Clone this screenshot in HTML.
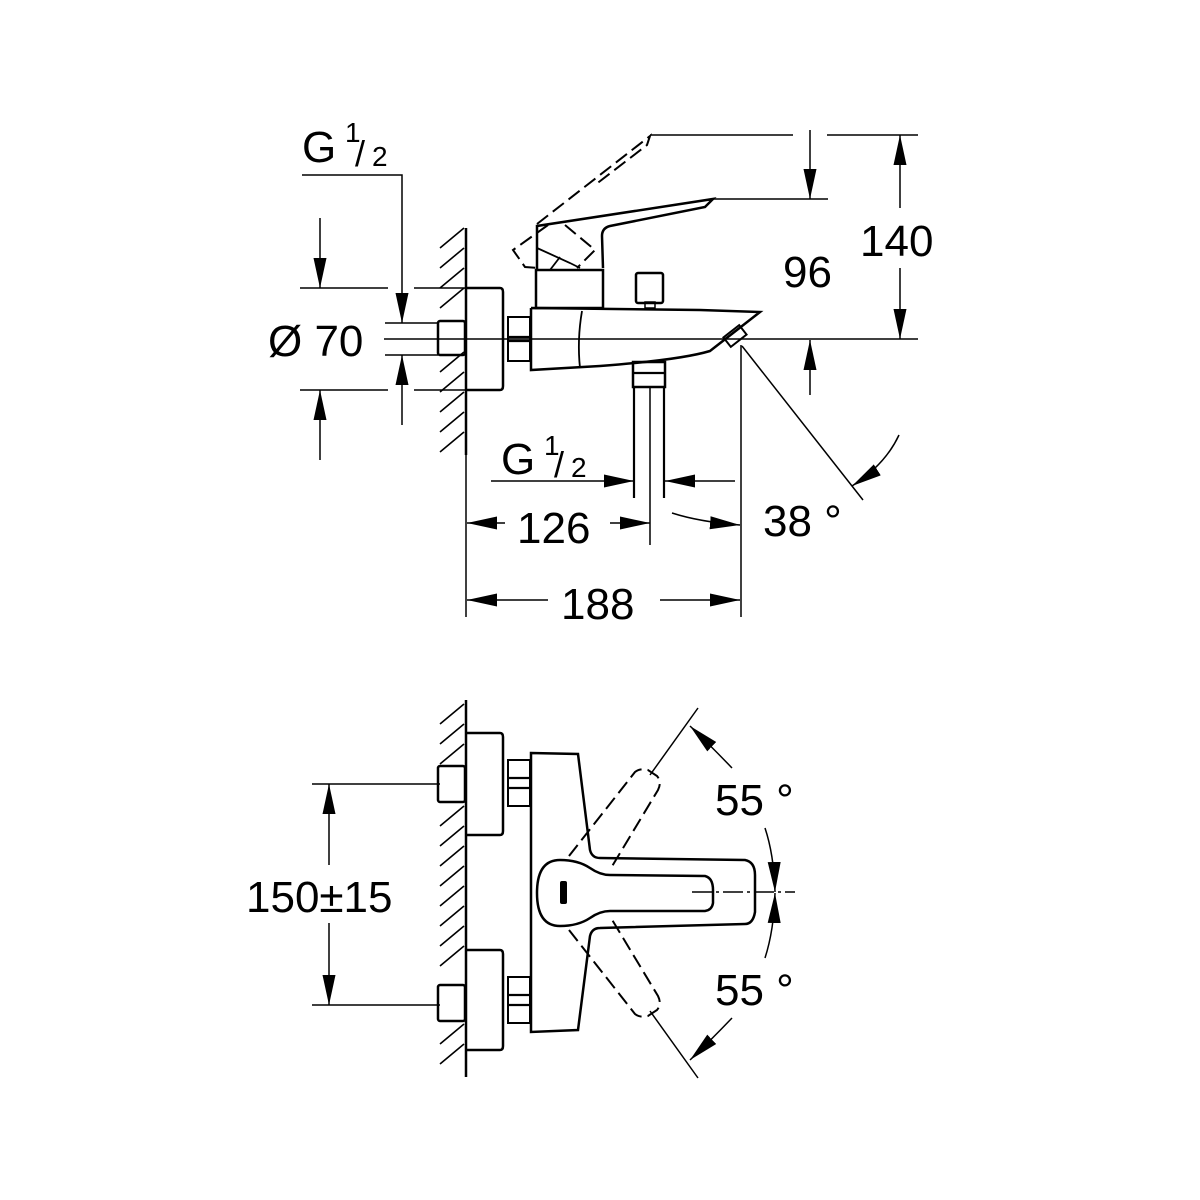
<!DOCTYPE html>
<html><head><meta charset="utf-8"><style>
html,body{margin:0;padding:0;background:#fff;}
svg{display:block}
text{font-family:"Liberation Sans",sans-serif;fill:#000}
</style></head><body>
<svg width="1200" height="1200" viewBox="0 0 1200 1200" xmlns="http://www.w3.org/2000/svg">
<defs>
<marker id="a" markerUnits="userSpaceOnUse" markerWidth="32" markerHeight="16" refX="30" refY="8" orient="auto">
<path d="M0,1.5 L30,8 L0,14.5 Z" fill="#000"/>
</marker>
</defs>
<g stroke="#000" fill="none" stroke-width="2.2">
<!-- ===== TOP VIEW ===== -->
<line x1="466" y1="228" x2="466" y2="455" stroke-width="2.5"/>
<g stroke-width="1.6">
<line x1="440" y1="248" x2="464" y2="228"/><line x1="440" y1="268" x2="464" y2="248"/>
<line x1="440" y1="288" x2="464" y2="268"/><line x1="440" y1="308" x2="464" y2="288"/>
<line x1="440" y1="372" x2="464" y2="352"/><line x1="440" y1="392" x2="464" y2="372"/>
<line x1="440" y1="412" x2="464" y2="392"/><line x1="440" y1="432" x2="464" y2="412"/>
<line x1="440" y1="452" x2="464" y2="432"/>
</g>
<path d="M467,288 L500,288 Q503,288 503,292 L503,386 Q503,390 500,390 L467,390" stroke-width="2.5"/>
<rect x="438" y="321" width="27" height="34" rx="2" stroke-width="2.5"/>
<rect x="508" y="317" width="22" height="44" stroke-width="2"/>
<line x1="508" y1="337" x2="530" y2="337"/><line x1="508" y1="341" x2="530" y2="341"/>
<path d="M531,308 L531,370 L600,366 Q680,360 710,351 L760,312 L700,310 L531,308" stroke-width="2.5"/>
<path d="M582,311 Q577,340 580,368" stroke-width="1.8"/>
<rect x="725" y="330" width="20" height="12" transform="rotate(-38 735 336)" stroke-width="2"/>
<rect x="536" y="270" width="67" height="38" stroke-width="2.5"/>
<path d="M537,270 L537,248 L537,226 L713,199 L705,207 L610,226 Q602,228 602,236 L603,268" stroke-width="2.5"/>
<path d="M537,248 L570,263 L580,268" stroke-width="1.8"/>
<path d="M550,270 L560,257" stroke-width="1.8"/>
<g stroke-dasharray="14,6" stroke-width="2">
<path d="M537,224 L650,136 L647,145 L595,185"/>
<path d="M548,225 L513,250 L525,267 L538,268"/>
<path d="M565,225 L595,250 L577,268"/>
</g>
<rect x="636" y="273" width="27" height="30" rx="2" stroke-width="2.5"/>
<rect x="645" y="302" width="10" height="6" stroke-width="1.5"/>
<rect x="633" y="362" width="32" height="25" stroke-width="2.5"/>
<line x1="633" y1="373" x2="665" y2="373"/>
<line x1="634" y1="387" x2="634" y2="498"/><line x1="664" y1="387" x2="664" y2="498"/>
<line x1="650" y1="387" x2="650" y2="545" stroke-width="1.5"/>
<line x1="384" y1="339" x2="918" y2="339" stroke-width="1.5"/>
<line x1="650" y1="135" x2="793" y2="135" stroke-width="1.5"/>
<line x1="827" y1="135" x2="918" y2="135" stroke-width="1.5"/>
<line x1="713" y1="199" x2="828" y2="199" stroke-width="1.5"/>
<line x1="810" y1="130" x2="810" y2="199" stroke-width="1.5" marker-end="url(#a)"/>
<line x1="810" y1="395" x2="810" y2="340" stroke-width="1.5" marker-end="url(#a)"/>
<line x1="900" y1="208" x2="900" y2="135" stroke-width="1.5" marker-end="url(#a)"/>
<line x1="900" y1="268" x2="900" y2="339" stroke-width="1.5" marker-end="url(#a)"/>
<line x1="300" y1="288" x2="388" y2="288" stroke-width="1.5"/>
<line x1="414" y1="288" x2="466" y2="288" stroke-width="1.5"/>
<line x1="300" y1="390" x2="388" y2="390" stroke-width="1.5"/>
<line x1="414" y1="390" x2="466" y2="390" stroke-width="1.5"/>
<line x1="385" y1="323" x2="438" y2="323" stroke-width="1.5"/>
<line x1="385" y1="355" x2="438" y2="355" stroke-width="1.5"/>
<line x1="320" y1="218" x2="320" y2="288" stroke-width="1.5" marker-end="url(#a)"/>
<line x1="320" y1="460" x2="320" y2="390" stroke-width="1.5" marker-end="url(#a)"/>
<polyline points="302,175 402,175 402,323" stroke-width="1.5" marker-end="url(#a)"/>
<line x1="402" y1="425" x2="402" y2="355" stroke-width="1.5" marker-end="url(#a)"/>
<line x1="466" y1="455" x2="466" y2="617" stroke-width="1.5"/>
<line x1="741" y1="345" x2="741" y2="617" stroke-width="1.5"/>
<line x1="491" y1="481" x2="634" y2="481" stroke-width="1.5" marker-end="url(#a)"/>
<line x1="735" y1="481" x2="665" y2="481" stroke-width="1.5" marker-end="url(#a)"/>
<line x1="505" y1="523" x2="467" y2="523" stroke-width="1.5" marker-end="url(#a)"/>
<line x1="610" y1="523" x2="650" y2="523" stroke-width="1.5" marker-end="url(#a)"/>
<line x1="548" y1="600" x2="467" y2="600" stroke-width="1.5" marker-end="url(#a)"/>
<line x1="660" y1="600" x2="740" y2="600" stroke-width="1.5" marker-end="url(#a)"/>
<line x1="742" y1="346" x2="863" y2="500" stroke-width="1.5"/>
<path d="M899,435 Q885,465 852,486" stroke-width="1.5" marker-end="url(#a)"/>
<path d="M672,513 Q700,522 740,525" stroke-width="1.5" marker-end="url(#a)"/>

<!-- ===== BOTTOM VIEW ===== -->
<line x1="466" y1="700" x2="466" y2="1077" stroke-width="2.5"/>
<g stroke-width="1.6">
<line x1="440" y1="724" x2="464" y2="704"/><line x1="440" y1="744" x2="464" y2="724"/>
<line x1="440" y1="764" x2="464" y2="744"/>
<line x1="440" y1="826" x2="464" y2="806"/><line x1="440" y1="846" x2="464" y2="826"/>
<line x1="440" y1="866" x2="464" y2="846"/><line x1="440" y1="886" x2="464" y2="866"/>
<line x1="440" y1="906" x2="464" y2="886"/><line x1="440" y1="926" x2="464" y2="906"/>
<line x1="440" y1="946" x2="464" y2="926"/><line x1="440" y1="966" x2="464" y2="946"/>
<line x1="440" y1="1044" x2="464" y2="1024"/><line x1="440" y1="1064" x2="464" y2="1044"/>
</g>
<path d="M467,733 L500,733 Q503,733 503,737 L503,831 Q503,835 500,835 L467,835" stroke-width="2.5"/>
<path d="M467,950 L500,950 Q503,950 503,954 L503,1046 Q503,1050 500,1050 L467,1050" stroke-width="2.5"/>
<rect x="438" y="766" width="27" height="36" rx="2" stroke-width="2.5"/>
<rect x="438" y="985" width="27" height="36" rx="2" stroke-width="2.5"/>
<rect x="508" y="760" width="22" height="46" stroke-width="2"/>
<line x1="508" y1="778" x2="530" y2="778"/><line x1="508" y1="788" x2="530" y2="788"/>
<rect x="508" y="977" width="22" height="46" stroke-width="2"/>
<line x1="508" y1="995" x2="530" y2="995"/><line x1="508" y1="1005" x2="530" y2="1005"/>
<path d="M531,753 L578,754 L590,850 Q592,858 600,858 L745,860 Q755,862 755,875 L755,912 Q753,924 745,924 L600,928 Q592,928 590,936 L578,1030 L531,1032 Z" stroke-width="2.5"/>
<path d="M560,860 Q578,860 590,868 Q600,875 610,875 L705,876 Q713,878 713,890 L713,903 Q712,910 705,911 L610,911 Q600,911 590,918 Q578,926 560,926 Q537,926 537,893 Q537,860 560,860 Z" stroke-width="2.5"/>
<rect x="560" y="881" width="7" height="23" rx="2" fill="#000" stroke="none"/>
<g stroke-dasharray="14,6" stroke-width="2">
<path d="M569,856 L635,772 Q640,768 648,770 L657,776 Q662,782 658,790 L611,868"/>
<path d="M569,930 L635,1014 Q640,1018 648,1016 L657,1010 Q662,1004 658,996 L611,918"/>
</g>
<line x1="650" y1="775" x2="698" y2="708" stroke-width="1.5"/>
<line x1="650" y1="1011" x2="698" y2="1078" stroke-width="1.5"/>
<line x1="692" y1="892" x2="795" y2="892" stroke-width="1.5" stroke-dasharray="20,4,3,4"/>
<path d="M732,768 Q710,745 690,726" stroke-width="1.5" marker-end="url(#a)"/>
<path d="M765,828 Q774,855 775,892" stroke-width="1.5" marker-end="url(#a)"/>
<path d="M765,958 Q774,930 775,893" stroke-width="1.5" marker-end="url(#a)"/>
<path d="M732,1018 Q710,1041 690,1060" stroke-width="1.5" marker-end="url(#a)"/>
<line x1="312" y1="784" x2="440" y2="784" stroke-width="1.5"/>
<line x1="312" y1="1005" x2="440" y2="1005" stroke-width="1.5"/>
<line x1="329" y1="865" x2="329" y2="784" stroke-width="1.5" marker-end="url(#a)"/>
<line x1="329" y1="923" x2="329" y2="1005" stroke-width="1.5" marker-end="url(#a)"/>
</g>
<g font-size="44">
<text x="302" y="162">G</text>
<text x="345" y="142" font-size="28">1</text>
<text x="355" y="166" font-size="36">/</text>
<text x="372" y="166" font-size="28">2</text>
<text x="268" y="356">Ø 70</text>
<text x="860" y="256">140</text>
<text x="783" y="287">96</text>
<text x="501" y="474">G</text>
<text x="544" y="455" font-size="28">1</text>
<text x="554" y="477" font-size="36">/</text>
<text x="571" y="477" font-size="28">2</text>
<text x="517" y="543">126</text>
<text x="561" y="619">188</text>
<text x="763" y="536">38 °</text>
<text x="715" y="815">55 °</text>
<text x="715" y="1005">55 °</text>
<text x="246" y="912">150±15</text>
</g>
</svg>
</body></html>
